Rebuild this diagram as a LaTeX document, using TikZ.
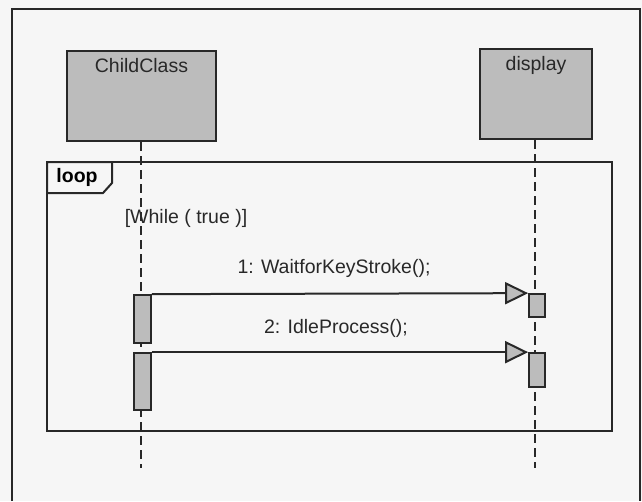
\documentclass[tikz,border=0pt]{standalone}
\usepackage{fontspec}
\setmainfont{Liberation Sans}
\usepackage{tikz}
\usetikzlibrary{arrows.meta,calc,positioning}
\definecolor{boxgray}{RGB}{188,188,188}
\definecolor{inkgray}{RGB}{40,40,40}
\definecolor{paper}{RGB}{246,246,246}

\begin{document}
\begin{tikzpicture}[x=1pt,y=-1pt,
    every node/.style={font=\fontsize{19.5}{22}\selectfont, text=inkgray},
    objbox/.style={draw=inkgray, fill=boxgray, line width=2pt, inner sep=0pt},
    actbox/.style={draw=inkgray, fill=boxgray, line width=1.7pt, inner sep=0pt, minimum width=17pt},
    lifeline/.style={draw=inkgray, line width=2pt, dash pattern=on 9pt off 5pt},
    msg/.style={draw=inkgray, line width=2pt, -{Triangle[length=23pt, width=22pt, fill=boxgray]}}]
                % paper and outer frame
                \useasboundingbox (0,0) rectangle (642,501);
                \fill[paper] (0,0) rectangle (642,501);
                \draw[inkgray, line width=2pt] (12,501) -- (12,9) -- (640,9) -- (640,501);
                % the two objects
                \node[objbox, minimum width=149pt, minimum height=90pt] (child) at (141.5,96) {};
                \node[objbox, minimum width=112pt, minimum height=90pt] (disp) at (536,94) {};
                \node[below=5pt of child.north] (childname) {ChildClass};
                \node[below=5pt of disp.north] (dispname) {display};
                % lifelines
                \coordinate (childend) at (141,468);
                \coordinate (dispend) at (535,468);
                \draw[lifeline] (child.south -| childend) -- (childend);
                \draw[lifeline] (disp.south -| dispend) -- (dispend);
                % loop fragment
                \draw[inkgray, line width=2pt] (47,162) rectangle (612,431);
                \draw[inkgray, line width=2pt, fill=paper] (47,162) -- (112,162) -- (112,183) -- (103,193) -- (47,193) -- cycle;
                \node[font=\fontsize{19.5}{22}\selectfont\bfseries, text=black] (looptag) at (77,177) {loop};
                \node (guard) at (186,218) {[While ( true )]};
                % activations
                \node[actbox, minimum height=48pt] (ca1) at (142.5,319) {};
                \node[actbox, minimum height=57pt] (ca2) at (142.5,381.5) {};
                \node[actbox, minimum width=16pt, minimum height=23pt] (da1) at (537,305.5) {};
                \node[actbox, minimum width=16pt, minimum height=34pt] (da2) at (537,370) {};
                % messages
                \draw[msg] (ca1.north east) -- (da1.north west);
                \draw[msg] (ca2.north east) -- (da2.north west);
                \node (msgone) at (334,268) {1: WaitforKeyStroke();};
                \node (msgtwo) at (336,328) {2: IdleProcess();};
\end{tikzpicture}
\end{document}
